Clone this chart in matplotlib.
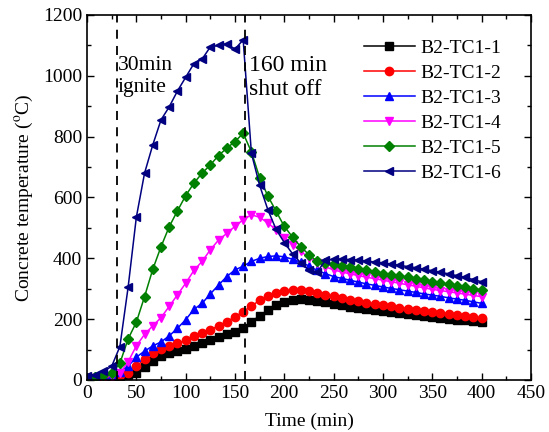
import matplotlib
matplotlib.use("Agg")
import matplotlib.pyplot as plt
from matplotlib.ticker import MultipleLocator

plt.rcParams["font.family"] = ["Liberation Serif", "DejaVu Serif"]
plt.rcParams["mathtext.fontset"] = "stix"

# sampling every 500 s (8.33 min), 0 - 400 min
time_min = [0, 8.33, 16.67, 25, 33.33, 41.67, 50, 58.33, 66.67, 75, 83.33, 91.67,
            100, 108.33, 116.67, 125, 133.33, 141.67, 150, 158.33, 166.67, 175,
            183.33, 191.67, 200, 208.33, 216.67, 225, 233.33, 241.67, 250, 258.33,
            266.67, 275, 283.33, 291.67, 300, 308.33, 316.67, 325, 333.33, 341.67,
            350, 358.33, 366.67, 375, 383.33, 391.67, 400]

tc1 = [5, 5, 8, 10, 12, 15, 22, 42, 62, 78, 88, 95, 102, 112, 122, 131, 140, 150,
       159, 170, 192, 211, 230, 246, 258, 263, 265, 264, 260, 255, 250, 245, 241,
       237, 233, 229, 226, 222, 219, 216, 213, 210, 207, 204, 201, 198, 196, 193, 191]
tc2 = [5, 8, 10, 12, 15, 22, 45, 68, 88, 102, 113, 121, 130, 143, 153, 165, 178, 192,
       207, 225, 243, 262, 276, 287, 293, 296, 295, 292, 287, 281, 275, 269, 264,
       259, 254, 250, 246, 242, 238, 235, 231, 228, 224, 221, 218, 214, 211, 207, 204]
tc3 = [8, 12, 15, 18, 25, 45, 75, 95, 112, 125, 145, 170, 198, 232, 252, 283, 312, 340,
       362, 374, 390, 400, 406, 408, 405, 397, 387, 375, 360, 350, 340, 334, 328,
       322, 316, 311, 306, 301, 297, 292, 288, 283, 279, 275, 270, 266, 262, 257, 252]
tc4 = [5, 8, 10, 12, 22, 60, 112, 150, 178, 205, 242, 280, 318, 360, 390, 428, 460, 482,
       505, 527, 543, 535, 516, 494, 468, 445, 423, 402, 385, 372, 362, 355, 349,
       343, 338, 333, 328, 323, 318, 313, 308, 303, 298, 294, 290, 286, 282, 278, 274]
tc5 = [8, 10, 15, 22, 55, 135, 190, 274, 364, 438, 504, 556, 606, 647, 680, 707, 738, 762,
       784, 811, 750, 665, 605, 555, 505, 470, 438, 412, 390, 385, 380, 375, 370,
       365, 360, 355, 350, 346, 341, 337, 332, 328, 323, 319, 314, 310, 305, 300, 296]
tc6 = [12, 18, 28, 45, 110, 305, 535, 680, 773, 855, 898, 950, 995, 1040, 1055, 1095,
       1100, 1105, 1088, 1118, 745, 640, 560, 495, 452, 415, 385, 362, 355, 393, 397,
       397, 396, 394, 391, 388, 385, 381, 377, 373, 369, 364, 359, 354, 349, 343, 337,
       330, 323]

labels = ["B2-TC1-1", "B2-TC1-2", "B2-TC1-3", "B2-TC1-4", "B2-TC1-5", "B2-TC1-6"]
series = [tc1, tc2, tc3, tc4, tc5, tc6]
colors = ["black", "red", "blue", "magenta", "green", "navy"]
markers = ["s", "o", "^", "v", "D", "<"]

fig = plt.figure(figsize=(5.49, 4.32), dpi=100)
ax = fig.add_axes([0.1585, 0.1204, 0.8085, 0.8449])

for vals, lab, c, m in zip(series, labels, colors, markers):
    ms = 5 if m == "D" else 6
    ax.plot(time_min, vals, color=c, marker=m, markersize=ms, linewidth=1.1, label=lab)

# ignition and shut-off lines
ax.axvline(30, color="black", linestyle=(0, (5, 4)), linewidth=1.3)
ax.axvline(160, color="black", linestyle=(0, (5, 4)), linewidth=1.3)
ax.text(31, 1065, "30min\nignite", fontsize=15.5, va="top", ha="left", linespacing=1.2)
ax.text(164, 1070, "160 min\nshut off", fontsize=17, va="top", ha="left", linespacing=1.2)

ax.set_xlim(0, 450)
ax.set_ylim(0, 1200)
ax.xaxis.set_major_locator(MultipleLocator(50))
ax.xaxis.set_minor_locator(MultipleLocator(25))
ax.yaxis.set_major_locator(MultipleLocator(200))
ax.yaxis.set_minor_locator(MultipleLocator(100))
ax.tick_params(which="both", direction="in", top=True, right=True, labelsize=14)
ax.tick_params(which="major", length=5, width=1)
ax.tick_params(which="minor", length=3, width=1)
for s in ax.spines.values():
    s.set_linewidth(1.2)

ax.set_xlabel("Time (min)", fontsize=14, labelpad=8)
ax.set_ylabel(r"Concrete temperature ($^{\rm o}$C)", fontsize=14, labelpad=6)

ax.legend(loc="upper right", bbox_to_anchor=(0.96, 0.965), frameon=False, fontsize=14,
          handlelength=2.6, handletextpad=0.3, labelspacing=0.38, borderaxespad=0.2)

fig.savefig("out.png", dpi=100)
